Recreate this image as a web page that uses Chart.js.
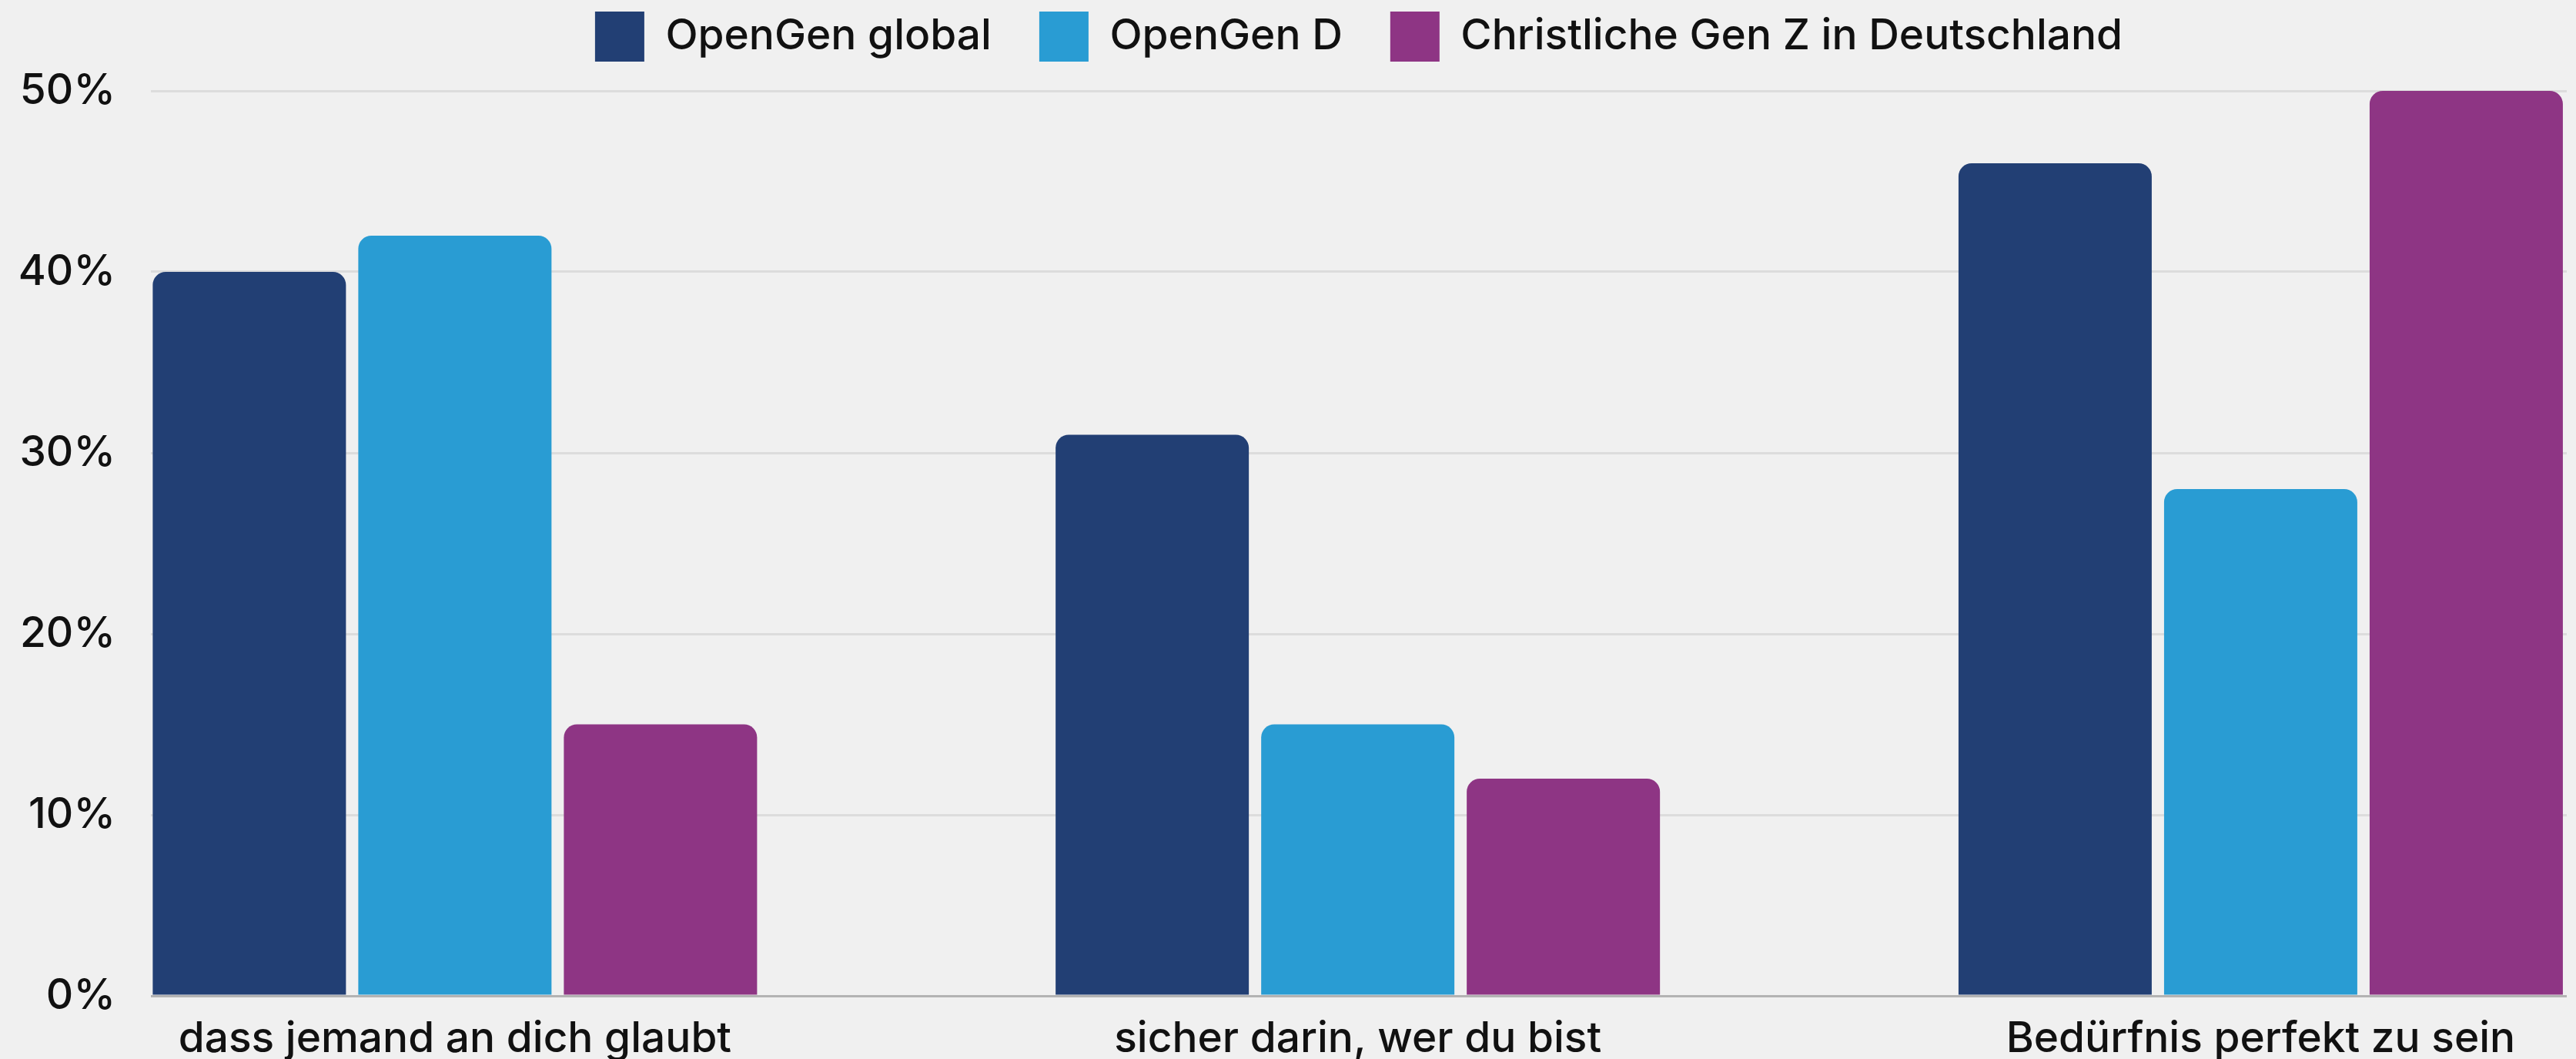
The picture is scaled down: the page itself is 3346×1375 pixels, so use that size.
<!DOCTYPE html>
<html>
<head>
<meta charset="utf-8">
<script src="https://cdn.jsdelivr.net/npm/chart.js@4/dist/chart.umd.min.js"></script>
<style>
  html, body { margin: 0; padding: 0; background: #f0f0f0; }
  #wrap { width: 3346px; height: 1375px; }
</style>
</head>
<body>
<div id="wrap"><canvas id="barChart" width="3346" height="1375"></canvas></div>
<script>
const categories = ["dass jemand an dich glaubt", "sicher darin, wer du bist", "Bedürfnis perfekt zu sein"];
const seriesNames = ["OpenGen global", "OpenGen D", "Christliche Gen Z in Deutschland"];
const openGenGlobal = [40, 31, 46];
const openGenD = [42, 15, 28];
const christlicheGenZ = [15, 12, 50];
const yTicks = [0, 10, 20, 30, 40, 50];

const colors = ["#223f74", "#299cd3", "#8e3584"];
const font = { family: "Inter, 'DejaVu Sans', sans-serif", size: 55, weight: "500" };

const toPoints = (vals) => vals.map((v, i) => ({ x: i, y: v }));

// extra space below the legend
const legendGap = {
  id: "legendGap",
  beforeInit(chart) {
    const fit = chart.legend.fit;
    chart.legend.fit = function () {
      fit.bind(chart.legend)();
      this.height += 28;
    };
  }
};

const ctx = document.getElementById("barChart").getContext("2d");

new Chart(ctx, {
  type: "bar",
  data: {
    datasets: [openGenGlobal, openGenD, christlicheGenZ].map((vals, k) => ({
      label: seriesNames[k],
      data: toPoints(vals),
      backgroundColor: colors[k],
      borderRadius: 17,
      categoryPercentage: 0.683,
      barPercentage: 0.94
    }))
  },
  options: {
    responsive: false,
    animation: false,
    devicePixelRatio: 1,
    layout: { padding: { top: -47, left: 0, right: 12, bottom: 0 } },
    plugins: {
      tooltip: { enabled: false },
      legend: {
        position: "top",
        fullSize: false,
        labels: {
          boxWidth: 64,
          boxHeight: 65,
          padding: 62,
          color: "#111",
          font: font
        }
      }
    },
    scales: {
      x: {
        type: "linear",
        offset: false,
        bounds: "data",
        min: -0.3367,
        max: 2.339,
        afterBuildTicks: (scale) => { scale.ticks = categories.map((_, i) => ({ value: i })); },
        afterFit: (scale) => { scale.height = 82; },
        grid: { display: false, drawTicks: false, offset: false },
        border: { display: false },
        ticks: {
          autoSkip: false,
          maxRotation: 0,
          padding: 23,
          color: "#111",
          font: font,
          callback: (v) => categories[v]
        }
      },
      y: {
        min: 0,
        max: 50,
        afterBuildTicks: (scale) => { scale.ticks = yTicks.map(v => ({ value: v })); },
        afterFit: (scale) => { scale.width = 196; },
        grid: {
          drawTicks: false,
          lineWidth: 3,
          color: (c) => c.tick && c.tick.value === 0 ? "#b3b3b3" : "#dcdcdc"
        },
        border: { display: false },
        ticks: {
          padding: 46,
          color: "#111",
          font: font,
          callback: (v) => v + "%"
        }
      }
    }
  },
  plugins: [legendGap]
});
</script>
</body>
</html>
